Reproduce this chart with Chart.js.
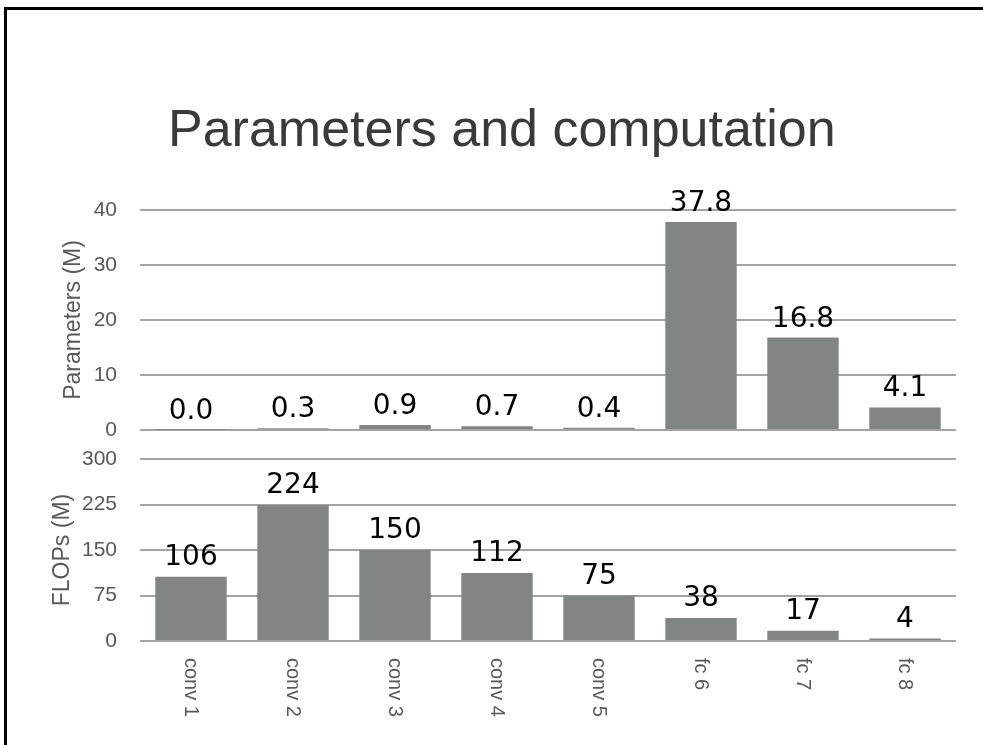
<!DOCTYPE html>
<html>
<head>
<meta charset="utf-8">
<title>Parameters and computation</title>
<script src="https://cdn.jsdelivr.net/npm/chart.js@4.4.1/dist/chart.umd.min.js"></script>
<style>
  html, body { margin: 0; padding: 0; background: #fff; }
  body { width: 983px; height: 745px; position: relative; overflow: hidden; }
  .frame {
    position: absolute; left: 4px; top: 7px; right: 0; bottom: 0;
    border-top: 3px solid #000; border-left: 3px solid #000;
  }
  h1 {
    position: absolute; left: 168px; top: 102px; margin: 0;
    font: 400 52px/52px "Liberation Sans", Arial, sans-serif;
    color: #3a3a3a; white-space: nowrap;
  }
  canvas { position: absolute; left: 0; top: 0; }
</style>
</head>
<body>
<div class="frame"></div>
<h1>Parameters and computation</h1>
<canvas id="paramsChart" width="983" height="745"></canvas>
<canvas id="flopsChart" width="983" height="745"></canvas>

<script>
// per-layer numbers for the network
const layers = ['conv 1', 'conv 2', 'conv 3', 'conv 4', 'conv 5', 'fc 6', 'fc 7', 'fc 8'];
const paramValues = [0.035, 0.3, 0.9, 0.7, 0.4, 37.8, 16.8, 4.1];
const flopValues = [106, 224, 150, 112, 75, 38, 17, 4];
const paramTicks = [0, 10, 20, 30, 40];
const flopTicks = [0, 75, 150, 225, 300];

const BAR_COLOR = '#818583';
const GRID_COLOR = '#a3a3a3';
const AXIS_TEXT = '#595959';
const AXIS_FONT = '"Liberation Sans", Arial, sans-serif';
const VALUE_FONT = '28px "DejaVu Sans", sans-serif';

// numbers printed above each bar
const valueLabels = {
    id: 'valueLabels',
    afterDatasetsDraw(chart, args, opts) {
        const ctx = chart.ctx;
        const data = chart.data.datasets[0].data;
        ctx.save();
        ctx.font = VALUE_FONT;
        ctx.fillStyle = '#000';
        ctx.textAlign = 'center';
        ctx.textBaseline = 'alphabetic';
        chart.getDatasetMeta(0).data.forEach((bar, i) => {
            ctx.fillText(data[i].toFixed(opts.digits), bar.x, bar.y - opts.gap);
        });
        ctx.restore();
    }
};

// category names under the lower chart, turned to read downwards
const sideLabels = {
    id: 'sideLabels',
    afterDraw(chart, args, opts) {
        if (!opts.show) return;
        const ctx = chart.ctx;
        const xScale = chart.scales.x;
        ctx.save();
        ctx.font = '20px ' + AXIS_FONT;
        ctx.fillStyle = AXIS_TEXT;
        ctx.textAlign = 'left';
        ctx.textBaseline = 'middle';
        chart.data.labels.forEach((name, i) => {
            ctx.save();
            ctx.translate(xScale.getPixelForValue(i), chart.chartArea.bottom + opts.gap);
            ctx.rotate(Math.PI / 2);
            ctx.fillText(name, 0, 0);
            ctx.restore();
        });
        ctx.restore();
    }
};

function makeChart(id, cfg) {
    return new Chart(document.getElementById(id), {
        type: 'bar',
        data: {
            labels: layers,
            datasets: [{
                data: cfg.values,
                backgroundColor: BAR_COLOR,
                borderWidth: 0,
                barPercentage: 0.7,
                categoryPercentage: 1.0
            }]
        },
        options: {
            responsive: false,
            animation: false,
            layout: { padding: cfg.padding },
            plugins: {
                legend: { display: false },
                tooltip: { enabled: false },
                valueLabels: { digits: cfg.digits, gap: cfg.gap },
                sideLabels: { show: cfg.sideLabels, gap: 17 }
            },
            scales: {
                x: { display: false },
                y: {
                    min: 0,
                    max: cfg.ticks[cfg.ticks.length - 1],
                    afterBuildTicks: s => { s.ticks = cfg.ticks.map(v => ({ value: v })); },
                    afterFit: s => { s.width = cfg.axisWidth; },
                    border: { display: false },
                    grid: { color: GRID_COLOR, lineWidth: 2, drawTicks: false },
                    ticks: {
                        color: AXIS_TEXT,
                        padding: 23,
                        font: { family: AXIS_FONT, size: 21 }
                    },
                    title: {
                        display: true,
                        text: cfg.title,
                        color: AXIS_TEXT,
                        padding: 0,
                        font: { family: AXIS_FONT, size: 23 }
                    }
                }
            }
        },
        plugins: [valueLabels, sideLabels]
    });
}

makeChart('paramsChart', {
    values: paramValues,
    ticks: paramTicks,
    title: 'Parameters (M)',
    digits: 1,
    gap: 11,
    sideLabels: false,
    axisWidth: 80,
    padding: { left: 60, right: 27, top: 210, bottom: 315 }
});

makeChart('flopsChart', {
    values: flopValues,
    ticks: flopTicks,
    title: 'FLOPs (M)',
    digits: 0,
    gap: 12,
    sideLabels: true,
    axisWidth: 91,
    padding: { left: 49, right: 27, top: 459, bottom: 104 }
});
</script>
</body>
</html>
